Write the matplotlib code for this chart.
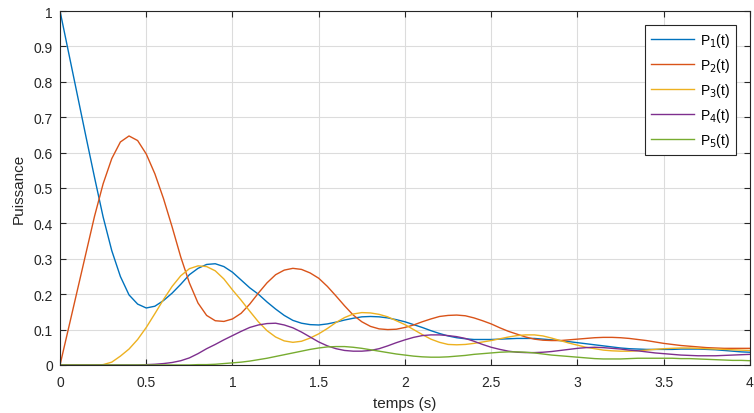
import numpy as np
import matplotlib
matplotlib.use("Agg")
import matplotlib.pyplot as plt

plt.rcParams["font.family"] = ["Liberation Sans", "DejaVu Sans"]

# time samples (s), every 0.05 s from 0 to 4
t = np.linspace(0, 4, 81)

# values
p1 = [1.0, 0.882, 0.764, 0.646, 0.530, 0.418, 0.323, 0.250, 0.198, 0.172,
      0.161, 0.166, 0.182, 0.203, 0.228, 0.255, 0.273, 0.284, 0.286, 0.278,
      0.262, 0.240, 0.218, 0.200, 0.178, 0.158, 0.140, 0.126, 0.118, 0.114,
      0.113, 0.116, 0.121, 0.127, 0.132, 0.136, 0.137, 0.136, 0.133, 0.128,
      0.122, 0.114, 0.106, 0.097, 0.089, 0.082, 0.077, 0.074, 0.072, 0.072,
      0.072, 0.073, 0.074, 0.075, 0.075, 0.075, 0.073, 0.071, 0.069, 0.066,
      0.063, 0.060, 0.057, 0.054, 0.051, 0.048, 0.046, 0.045, 0.044, 0.044,
      0.044, 0.044, 0.045, 0.045, 0.045, 0.044, 0.043, 0.041, 0.039, 0.037,
      0.036]
p2 = [0.0, 0.105, 0.210, 0.315, 0.420, 0.512, 0.583, 0.630, 0.647, 0.634,
      0.596, 0.540, 0.470, 0.390, 0.305, 0.232, 0.175, 0.140, 0.125, 0.123,
      0.130, 0.146, 0.172, 0.203, 0.232, 0.255, 0.268, 0.273, 0.270, 0.260,
      0.245, 0.222, 0.195, 0.167, 0.141, 0.122, 0.109, 0.102, 0.100, 0.101,
      0.106, 0.113, 0.122, 0.130, 0.137, 0.140, 0.141, 0.139, 0.133, 0.125,
      0.116, 0.105, 0.095, 0.087, 0.079, 0.073, 0.070, 0.069, 0.069, 0.071,
      0.073, 0.075, 0.077, 0.078, 0.078, 0.077, 0.075, 0.072, 0.069, 0.065,
      0.061, 0.058, 0.055, 0.053, 0.051, 0.049, 0.048, 0.047, 0.047, 0.047,
      0.047]
p3 = [0.0, 0.0, 0.0, 0.0, 0.0, 0.001, 0.008, 0.025, 0.045, 0.072,
      0.106, 0.145, 0.185, 0.222, 0.252, 0.272, 0.280, 0.278, 0.266, 0.243,
      0.212, 0.183, 0.152, 0.122, 0.097, 0.079, 0.068, 0.064, 0.067, 0.076,
      0.088, 0.103, 0.120, 0.134, 0.144, 0.148, 0.147, 0.143, 0.136, 0.125,
      0.114, 0.100, 0.086, 0.073, 0.064, 0.058, 0.057, 0.058, 0.061, 0.065,
      0.069, 0.074, 0.079, 0.083, 0.085, 0.085, 0.082, 0.076, 0.069, 0.062,
      0.056, 0.050, 0.046, 0.042, 0.040, 0.039, 0.039, 0.040, 0.042, 0.044,
      0.046, 0.047, 0.048, 0.048, 0.047, 0.046, 0.045, 0.044, 0.043, 0.042,
      0.041]
p4 = [0.0, 0.0, 0.0, 0.0, 0.0, 0.0, 0.0, 0.0, 0.0, 0.0,
      0.001, 0.002, 0.004, 0.007, 0.012, 0.020, 0.032, 0.046, 0.058, 0.071,
      0.083, 0.095, 0.106, 0.113, 0.117, 0.118, 0.113, 0.105, 0.093, 0.079,
      0.065, 0.054, 0.046, 0.041, 0.039, 0.039, 0.041, 0.046, 0.054, 0.063,
      0.071, 0.078, 0.083, 0.085, 0.085, 0.083, 0.080, 0.075, 0.067, 0.058,
      0.050, 0.044, 0.039, 0.036, 0.035, 0.035, 0.036, 0.038, 0.041, 0.044,
      0.047, 0.049, 0.050, 0.049, 0.047, 0.045, 0.042, 0.040, 0.037, 0.034,
      0.032, 0.030, 0.028, 0.027, 0.026, 0.026, 0.026, 0.027, 0.028, 0.029,
      0.030]
p5 = [0.0, 0.0, 0.0, 0.0, 0.0, 0.0, 0.0, 0.0, 0.0, 0.0,
      0.0, 0.0, 0.0, 0.0, 0.0, 0.0, 0.001, 0.001, 0.002, 0.004,
      0.006, 0.008, 0.011, 0.015, 0.019, 0.024, 0.029, 0.034, 0.039, 0.044,
      0.048, 0.051, 0.052, 0.052, 0.050, 0.047, 0.043, 0.039, 0.035, 0.031,
      0.028, 0.025, 0.023, 0.022, 0.022, 0.023, 0.025, 0.027, 0.030, 0.032,
      0.034, 0.036, 0.037, 0.037, 0.036, 0.034, 0.031, 0.028, 0.026, 0.024,
      0.022, 0.020, 0.018, 0.017, 0.017, 0.017, 0.018, 0.019, 0.019, 0.019,
      0.019, 0.019, 0.018, 0.018, 0.017, 0.016, 0.015, 0.014, 0.013, 0.013,
      0.012]

series = [p1, p2, p3, p4, p5]
labels = ["P$_{%d}$(t)" % (k + 1) for k in range(5)]
colors = ["#0072BD", "#D95319", "#EDB120", "#7E2F8E", "#77AC30"]

fig = plt.figure(figsize=(7.54, 4.14), dpi=100)
ax = fig.add_axes([0.0796, 0.116, 0.915, 0.855])

for y, lab, c in zip(series, labels, colors):
    ax.plot(t, y, color=c, lw=1.0, label=lab, solid_joinstyle="round")

ax.set_xlim(0, 4)
ax.set_ylim(0, 1)
ax.set_xticks(np.arange(0, 4.01, 0.5))
ax.set_xticklabels(["0", "0.5", "1", "1.5", "2", "2.5", "3", "3.5", "4"])
ax.set_yticks(np.arange(0, 1.01, 0.1))
ax.set_yticklabels(["0", "0.1", "0.2", "0.3", "0.4", "0.5", "0.6", "0.7",
                    "0.8", "0.9", "1"])
ax.grid(True, color="#dcdcdc", lw=0.8)
ax.set_axisbelow(True)
ax.tick_params(direction="in", top=True, right=True, length=4,
               labelsize=10, colors="#262626", width=0.8)
ax.tick_params(axis="x", pad=7)
ax.tick_params(axis="y", pad=5)
for s in ax.spines.values():
    s.set_color("#262626")
    s.set_linewidth(0.8)

ax.set_xlabel("temps (s)", fontsize=11, color="#262626", labelpad=5)
ax.set_ylabel("Puissance", fontsize=11, color="#262626", labelpad=6)

leg = ax.legend(loc="upper right", fontsize=10, handlelength=3.1,
                fancybox=False, framealpha=1, edgecolor="#262626",
                borderaxespad=1.0, labelspacing=0.5, handletextpad=0.4,
                borderpad=0.45)
leg.get_frame().set_linewidth(0.8)

fig.savefig("out.png", dpi=100)
